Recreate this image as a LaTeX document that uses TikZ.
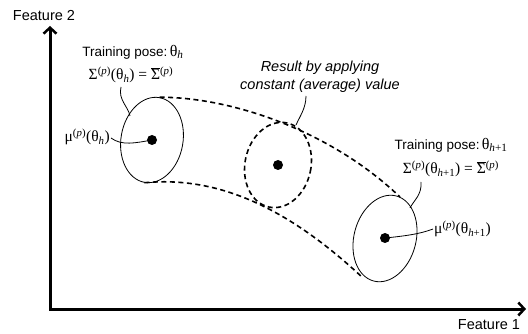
\documentclass[tikz,border=0pt]{standalone}
\usepackage{fontspec}
\setmainfont{Liberation Sans}
\newfontfamily\serf{Liberation Serif}
\usetikzlibrary{arrows.meta,shapes.geometric}
\begin{document}
\begin{tikzpicture}[x=1pt,y=-1pt,
  axisline/.style={line width=3pt, line join=miter,
    arrows={Straight Barb[length=6pt,width=13pt,line width=2.5pt]-Straight Barb[length=6pt,width=13pt,line width=2.5pt]}},
  sanslbl/.style={font=\fontsize{14.5}{17}\selectfont, inner sep=0pt},
  mathlbl/.style={font=\serf\fontsize{15.5}{17}\selectfont, inner sep=0pt},
  gauss/.style={ellipse, draw, line width=0.8pt, inner sep=0pt, minimum width=62pt, minimum height=86pt},
  dgauss/.style={ellipse, draw, line width=1.6pt, dash pattern=on 5pt off 3.5pt, inner sep=0pt, minimum width=66pt, minimum height=86pt},
  dotnode/.style={circle, fill, inner sep=0pt, minimum size=10pt},
  dcurve/.style={line width=1.6pt, dash pattern=on 5pt off 3.5pt},
  leader/.style={line width=0.8pt}
]
\useasboundingbox (0,0) rectangle (528,334);

% axes
\coordinate (ytip) at (50,26);
\coordinate (orig) at (50,309);
\coordinate (xtip) at (526,309);
\draw[axisline] (ytip) -- (orig) -- (xtip);
\node[sanslbl] (f2) at (44,16) {Feature 2};
\node[sanslbl] (f1) at (489,325) {Feature 1};

% ellipses
\node[gauss, rotate=-10] (e1) at (152,140) {};
\node[dgauss, rotate=-12] (e2) at (278,165) {};
\node[gauss, rotate=-15, minimum height=88pt] (e3) at (385,238.5) {};
\node[dotnode] (d1) at (152,140) {};
\node[dotnode] (d2) at (278,165) {};
\node[dotnode] (d3) at (385,238) {};

% dashed envelope
\coordinate (u3) at (400,197);
\coordinate (l3) at (363,278);
\draw[dcurve] (e1.north) .. controls (230,97) and (330,130) .. (u3);
\draw[dcurve] (e1.south) .. controls (215,176) and (285,205) .. (l3);

% labels left
\node[sanslbl, font=\fontsize{13.5}{16}\selectfont] (tp1) at (133,52)
  {Training pose:\,{\serf\fontsize{16}{17}\selectfont θ\textsubscript{\itshape h}}};
\node[mathlbl] (s1) at (131,75)
  {Σ\textsuperscript{(\textit{p})}(θ\textsubscript{\textit{h}}) = $\overline{\hbox{Σ}}$\textsuperscript{(\textit{p})}};
\node[mathlbl, anchor=east] (m1) at (110,137)
  {μ\textsuperscript{(\textit{p})}(θ\textsubscript{\textit{h}})};

% labels right
\node[sanslbl, font=\fontsize{13.5}{16}\selectfont] (tp2) at (451,145)
  {Training pose:\,{\serf\fontsize{16}{17}\selectfont θ\textsubscript{\itshape h\upshape +1}}};
\node[mathlbl] (s2) at (451,169)
  {Σ\textsuperscript{(\textit{p})}(θ\textsubscript{\textit{h}+1}) = $\overline{\hbox{Σ}}$\textsuperscript{(\textit{p})}};
\node[mathlbl, anchor=west] (m2) at (434,229)
  {μ\textsuperscript{(\textit{p})}(θ\textsubscript{\textit{h}+1})};

% result label
\node[sanslbl, font=\itshape\fontsize{14.5}{18}\selectfont, align=center] (res) at (320,77)
  {Result by applying\\constant (average) value};

% leaders
\coordinate (s1a) at (121,87);
\coordinate (s1b) at (130,116);
\draw[leader] (s1a) .. controls (118,100) and (128,106) .. (s1b);
\coordinate (m1a) at (111,138);
\draw[leader] (m1a) .. controls (122,146) and (135,143) .. (d1.center);
\coordinate (ra) at (306,96);
\coordinate (rb) at (296,125);
\draw[leader] (ra) .. controls (306,108) and (300,116) .. (rb);
\coordinate (s2a) at (421,182);
\coordinate (s2b) at (410,208);
\draw[leader] (s2a) .. controls (422,195) and (414,200) .. (s2b);
\coordinate (m2a) at (433,229);
\draw[leader] (d3.center) .. controls (405,236) and (420,234) .. (m2a);
\end{tikzpicture}
\end{document}
